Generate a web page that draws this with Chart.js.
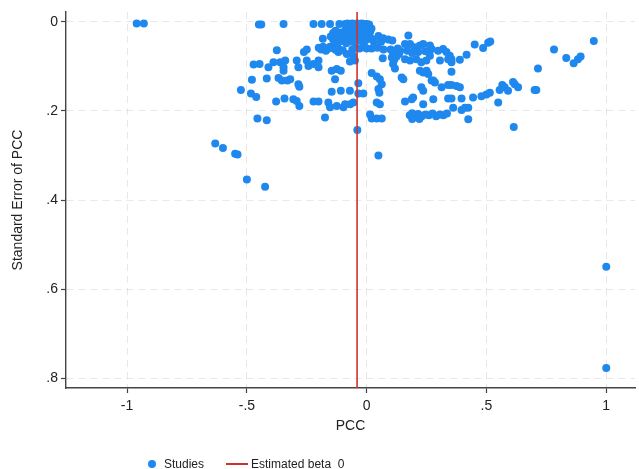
<!DOCTYPE html>
<html>
<head>
<meta charset="utf-8">
<script src="https://cdn.jsdelivr.net/npm/chart.js@4/dist/chart.umd.min.js"></script>
<style>
  html, body { margin: 0; padding: 0; background: #fff; overflow: hidden; }
  #wrap { position: relative; width: 639px; height: 469px; }
  #legend { position: absolute; left: 148px; top: 456px; font: 12px "Liberation Sans", Arial, sans-serif; color: #222; white-space: nowrap; }
  #legend span { display: inline-block; vertical-align: middle; }
  .dot { width: 8px; height: 8px; border-radius: 50%; background: #1e88ef; margin-right: 8px; }
  .redline { width: 22px; height: 2px; background: #d0312d; margin-left: 22px; margin-right: 3px; }
</style>
</head>
<body>
<div id="wrap">
  <canvas id="funnel" width="639" height="469"></canvas>
  <div id="legend"></div>
</div>
<script>
// effect size (PCC) and its standard error, one entry per estimate
const pcc = [
  -0.96, -0.93, -0.45, -0.44, -0.347, -0.222, -0.188, -0.153, -0.114,
  -0.375, -0.262, -0.25, -0.2, -0.182, -0.153, -0.14,
  -0.472, -0.447, -0.41, -0.389, -0.361, -0.34, -0.347, -0.347,
  -0.292, -0.285, -0.25, -0.243, -0.222, -0.201, -0.201,
  -0.479, -0.417, -0.368, -0.354, -0.331, -0.319, -0.285, -0.281,
  -0.525, -0.483, -0.461, -0.378, -0.343, -0.306, -0.292, -0.281,
  -0.222, -0.201, -0.174, -0.456, -0.417,
  -0.632, -0.6, -0.549, -0.539, -0.5, -0.424,
  -0.183, -0.146, -0.125, -0.108, -0.132, -0.07, -0.049,
  -0.146, -0.108, -0.07, -0.035, -0.035, -0.014,
  -0.16, -0.153, -0.125, -0.097, -0.09, -0.069, -0.056, -0.039,
  -0.118, -0.083, -0.056, -0.19, -0.17, -0.16, -0.13, -0.12, -0.1,
  -0.06, -0.045, -0.03, -0.015, 0.0,
  -0.09, -0.08, -0.07, -0.06, -0.05, -0.04, -0.03, -0.02, -0.01, 0.0, 0.01,
  -0.085, -0.07, -0.055, -0.04, -0.025, -0.01, 0.005, 0.02,
  -0.09, -0.075, -0.06, -0.045, -0.03, -0.015, 0.0, 0.015,
  -0.08, -0.065, -0.05, -0.035, -0.02, -0.005, 0.01,
  -0.1, -0.07, -0.04,
  -0.14, -0.13, -0.12, -0.11, -0.1, -0.14, -0.13, -0.12, -0.105, -0.09, -0.085, -0.15,
  -0.06, -0.03, -0.01, 0.0,
  0.021, 0.049, 0.069, 0.09, 0.107, 0.03, 0.06,
  0.021, 0.045, 0.07, 0.174,
  0.1, 0.11, 0.12, 0.13, 0.105, 0.115, 0.125, 0.135, 0.11, 0.14,
  0.067, 0.118,
  0.16, 0.181, 0.201, 0.222, 0.236, 0.264, 0.271,
  0.16, 0.181, 0.207, 0.228, 0.249, 0.264,
  0.17, 0.19, 0.215, 0.245,
  0.298, 0.319, 0.333, 0.347, 0.354, 0.354, 0.34, 0.306,
  0.389, 0.417, 0.451, 0.486, 0.507, 0.516, 0.354,
  0.021, 0.042, 0.055, 0.063, 0.049, 0.053,
  0.146, 0.153, 0.222, 0.236, 0.25, 0.257,
  0.271, 0.278, 0.285, 0.228, 0.236,
  0.313, 0.34, 0.354, 0.375, 0.389,
  0.555, 0.566, 0.576, 0.59, 0.611, 0.618, 0.632,
  0.701, 0.708, 0.715, 0.782, 0.833, 0.864, 0.882, 0.893, 0.948,
  0.16, 0.188, 0.194, 0.236, 0.278, 0.34, 0.354, 0.396, 0.444, 0.479, 0.5, 0.514, 0.549,
  0.042, 0.055, 0.014, 0.021, 0.042, 0.063, 0.049,
  0.361, 0.396, 0.41, 0.424, 0.424,
  0.18, 0.19, 0.2, 0.215, 0.23, 0.245, 0.26, 0.275, 0.29, 0.305, 0.32, 0.335, 0.19, 0.22,
  0.614, 1.0, 1.0
];
const se = [
  0.004, 0.004, 0.006, 0.006, 0.005, 0.005, 0.005, 0.005, 0.005,
  0.064, 0.068, 0.062, 0.058, 0.056, 0.056, 0.059,
  0.096, 0.095, 0.102, 0.091, 0.091, 0.087, 0.102, 0.11,
  0.087, 0.102, 0.087, 0.099, 0.095, 0.087, 0.102,
  0.13, 0.127, 0.126, 0.132, 0.132, 0.129, 0.14, 0.146,
  0.153, 0.161, 0.169, 0.179, 0.172, 0.174, 0.178, 0.189,
  0.179, 0.179, 0.215, 0.217, 0.221,
  0.273, 0.283, 0.296, 0.298, 0.354, 0.37,
  0.038, 0.11, 0.106, 0.11, 0.129, 0.089, 0.087,
  0.157, 0.155, 0.155, 0.138, 0.161, 0.161,
  0.181, 0.192, 0.189, 0.192, 0.185, 0.185, 0.181, 0.243,
  0.068, 0.072, 0.076, 0.062, 0.065, 0.06, 0.063, 0.058, 0.064,
  0.062, 0.058, 0.06, 0.057, 0.06,
  0.005, 0.004, 0.005, 0.004, 0.005, 0.004, 0.005, 0.004, 0.005, 0.005, 0.006,
  0.012, 0.013, 0.011, 0.012, 0.013, 0.012, 0.013, 0.015,
  0.02, 0.022, 0.02, 0.021, 0.022, 0.02, 0.021, 0.022,
  0.028, 0.03, 0.027, 0.03, 0.028, 0.03, 0.029,
  0.035, 0.036, 0.035,
  0.025, 0.02, 0.03, 0.024, 0.028, 0.04, 0.045, 0.038, 0.043, 0.04, 0.048, 0.033,
  0.045, 0.042, 0.046, 0.04,
  0.038, 0.032, 0.037, 0.04, 0.042, 0.045, 0.045,
  0.06, 0.058, 0.062, 0.031,
  0.062, 0.07, 0.065, 0.06, 0.08, 0.085, 0.078, 0.072, 0.095, 0.065,
  0.082, 0.105,
  0.05, 0.05, 0.057, 0.053, 0.05, 0.053, 0.061,
  0.084, 0.087, 0.084, 0.091, 0.087, 0.076,
  0.065, 0.07, 0.068, 0.066,
  0.065, 0.061, 0.068, 0.076, 0.084, 0.091, 0.084, 0.087,
  0.085, 0.074, 0.051, 0.059, 0.047, 0.044, 0.112,
  0.115, 0.123, 0.129, 0.14, 0.151, 0.159,
  0.125, 0.129, 0.11, 0.114, 0.11, 0.117,
  0.132, 0.132, 0.136, 0.147, 0.155,
  0.147, 0.142, 0.142, 0.144, 0.147,
  0.153, 0.142, 0.147, 0.155, 0.135, 0.14, 0.147,
  0.153, 0.153, 0.105, 0.062, 0.081, 0.093, 0.084, 0.078, 0.043,
  0.179, 0.174, 0.17, 0.185, 0.174, 0.172, 0.172, 0.172, 0.17, 0.167, 0.163, 0.159, 0.181,
  0.181, 0.185, 0.208, 0.217, 0.217, 0.217, 0.3,
  0.193, 0.198, 0.193, 0.193, 0.219,
  0.21, 0.205, 0.212, 0.207, 0.212, 0.208, 0.21, 0.206, 0.212, 0.208, 0.21, 0.206, 0.218, 0.218,
  0.236, 0.55, 0.777
];
const betaEstimate = -0.04;
const xTicks = [-1, -0.5, 0, 0.5, 1];
const yTicks = [0, 0.2, 0.4, 0.6, 0.8];
const xRange = [-1.255, 1.12];
const yRange = [-0.022, 0.822];

const points = pcc.map((v, i) => ({ x: v, y: se[i] }));

function shortLabel(v) {
  // Stata style: drop the leading zero (.5, -.5)
  let s = String(Math.round(v * 10) / 10);
  return s.replace(/^0\./, '.').replace(/^-0\./, '-.');
}

const font = { family: '"Liberation Sans", Arial, sans-serif', size: 14 };
const axisColor = '#444';

const ctx = document.getElementById('funnel').getContext('2d');
new Chart(ctx, {
  data: {
    datasets: [
      {
        type: 'line',
        label: 'Estimated beta_0',
        data: [{ x: betaEstimate, y: yRange[0] }, { x: betaEstimate, y: yRange[1] }],
        borderColor: '#d0312d',
        borderWidth: 1.6,
        pointRadius: 0,
        order: 0,
      },
      {
        type: 'scatter',
        label: 'Studies',
        data: points,
        backgroundColor: '#1e88ef',
        borderWidth: 0,
        pointRadius: 4,
        order: 1,
      },
    ],
  },
  options: {
    responsive: false,
    animation: false,
    layout: { padding: { top: 12, right: 3, bottom: 34, left: 10 } },
    plugins: { legend: { display: false }, tooltip: { enabled: false } },
    scales: {
      x: {
        type: 'linear',
        min: xRange[0],
        max: xRange[1],
        afterBuildTicks: (scale) => { scale.ticks = xTicks.map(v => ({ value: v })); },
        afterFit: (scale) => { scale.height = 47; },
        ticks: { font: font, color: '#222', padding: 5, maxRotation: 0, callback: (v) => shortLabel(v) },
        grid: { color: 'rgba(0,0,0,0.09)', lineWidth: 1, tickColor: axisColor, tickLength: 5, tickWidth: 1.2, tickBorderDash: [] },
        border: { color: axisColor, width: 1.4, dash: [7, 5] },
        title: { display: true, text: 'PCC', font: font, color: '#222', padding: 0 },
      },
      y: {
        type: 'linear',
        reverse: true,
        min: yRange[0],
        max: yRange[1],
        afterBuildTicks: (scale) => { scale.ticks = yTicks.map(v => ({ value: v })); },
        afterFit: (scale) => { scale.width = 56; },
        ticks: { font: font, color: '#222', padding: 3, callback: (v) => shortLabel(v) },
        grid: { color: 'rgba(0,0,0,0.09)', lineWidth: 1, tickColor: axisColor, tickLength: 5, tickWidth: 1.2, tickBorderDash: [] },
        border: { color: axisColor, width: 1.4, dash: [7, 5] },
        title: { display: true, text: 'Standard Error of PCC', font: font, color: '#222', padding: 0 },
      },
    },
  },
});

// legend below the plot, built as plain DOM
const legend = document.getElementById('legend');
const dot = document.createElement('span');
dot.className = 'dot';
const studies = document.createElement('span');
studies.textContent = 'Studies';
const line = document.createElement('span');
line.className = 'redline';
const beta = document.createElement('span');
beta.textContent = 'Estimated beta_0';
legend.appendChild(dot);
legend.appendChild(studies);
legend.appendChild(line);
legend.appendChild(beta);
</script>
</body>
</html>
